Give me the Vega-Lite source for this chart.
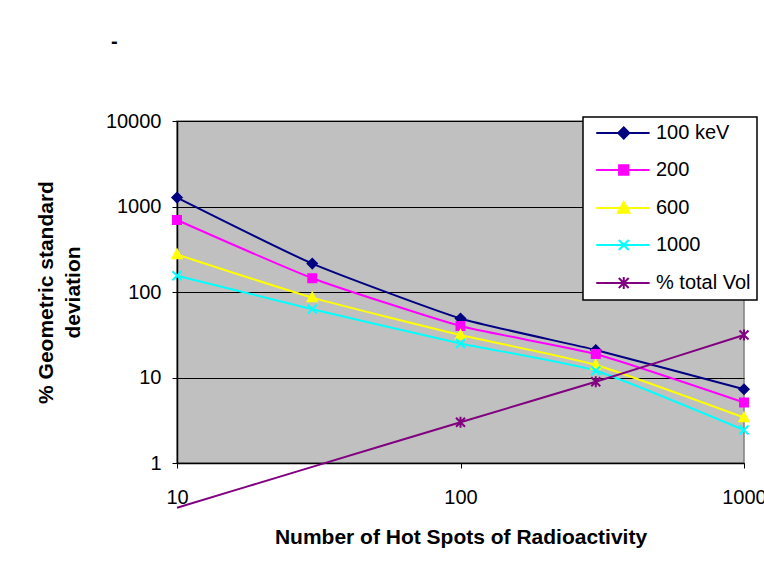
{
  "$schema": "https://vega.github.io/schema/vega-lite/v6.json",
  "width": 567,
  "height": 342,
  "autosize": {"type": "none"},
  "padding": {"left": 177, "top": 121, "right": 20, "bottom": 112},
  "background": "white",
  "title": {"text": "-", "anchor": "start", "frame": "group", "dx": -66, "offset": 59, "font": "Liberation Sans", "fontSize": 20, "fontWeight": "bold", "color": "black"},
  "config": {
    "view": {"fill": "#C0C0C0", "stroke": "#808080", "strokeWidth": 1.5},
    "font": "Liberation Sans"
  },
  "data": {"values": [
    {"x": 10, "series": "100 keV", "y": 1270},
    {"x": 30, "series": "100 keV", "y": 215},
    {"x": 100, "series": "100 keV", "y": 49},
    {"x": 300, "series": "100 keV", "y": 21},
    {"x": 1000, "series": "100 keV", "y": 7.3},
    {"x": 10, "series": "200", "y": 695},
    {"x": 30, "series": "200", "y": 145},
    {"x": 100, "series": "200", "y": 40},
    {"x": 300, "series": "200", "y": 18.8},
    {"x": 1000, "series": "200", "y": 5.1},
    {"x": 10, "series": "600", "y": 275},
    {"x": 30, "series": "600", "y": 86},
    {"x": 100, "series": "600", "y": 31.4},
    {"x": 300, "series": "600", "y": 14},
    {"x": 1000, "series": "600", "y": 3.4},
    {"x": 10, "series": "1000", "y": 155},
    {"x": 30, "series": "1000", "y": 63},
    {"x": 100, "series": "1000", "y": 25},
    {"x": 300, "series": "1000", "y": 12},
    {"x": 1000, "series": "1000", "y": 2.43},
    {"x": 10, "series": "% total Vol", "y": 0.3},
    {"x": 30, "series": "% total Vol", "y": 0.9},
    {"x": 100, "series": "% total Vol", "y": 3.0},
    {"x": 300, "series": "% total Vol", "y": 8.9},
    {"x": 1000, "series": "% total Vol", "y": 31.4}
  ]},
  "encoding": {
    "x": {"field": "x", "type": "quantitative",
      "scale": {"type": "log", "domain": [10, 1000], "nice": false},
      "axis": {"title": "Number of Hot Spots of Radioactivity", "values": [10, 100, 1000],
        "labelExpr": "format(datum.value, 'd')", "grid": false,
        "tickSize": 5, "tickColor": "black", "domainColor": "black", "domainWidth": 1.5,
        "labelFont": "Liberation Sans", "labelFontSize": 20, "labelColor": "black", "labelPadding": 19,
        "labelOverlap": false, "labelFlush": false,
        "titleFont": "Liberation Sans", "titleFontSize": 21, "titleFontWeight": "bold", "titleColor": "black", "titlePadding": 19}},
    "y": {"field": "y", "type": "quantitative",
      "scale": {"type": "log", "domain": [1, 10000], "nice": false},
      "axis": {"title": ["% Geometric standard", "deviation"], "values": [1, 10, 100, 1000, 10000],
        "labelExpr": "format(datum.value, 'd')", "grid": true, "gridColor": "black", "gridWidth": 1, "gridOpacity": 1,
        "tickSize": 5, "tickColor": "black", "domainColor": "black", "domainWidth": 1.5,
        "labelFont": "Liberation Sans", "labelFontSize": 20, "labelColor": "black", "labelPadding": 11,
        "titleFont": "Liberation Sans", "titleFontSize": 21, "titleFontWeight": "bold", "titleColor": "black",
        "titlePadding": 22, "titleLineHeight": 27}}
  },
  "layer": [
    {
      "mark": {"type": "line", "interpolate": "cardinal", "tension": 0.5, "strokeWidth": 2, "clip": false},
      "encoding": {
        "color": {"field": "series", "type": "nominal",
          "scale": {"domain": ["100 keV", "200", "600", "1000", "% total Vol"], "range": ["#000080", "#FF00FF", "#FFFF00", "#00FFFF", "#800080"]},
          "legend": {
            "title": null, "orient": "none", "legendX": 406, "legendY": -4,
            "fillColor": "white", "strokeColor": "black", "padding": 6,
            "symbolSize": 121, "symbolStrokeWidth": 2, "rowPadding": 17,
            "labelFont": "Liberation Sans", "labelFontSize": 20, "labelColor": "black", "labelOffset": 47, "labelLimit": 200,
            "encode": {
              "legend": {"update": {"strokeWidth": {"value": 1.5}}},
              "symbols": {"update": {
              "fill": {"scale": "color", "field": "value"},
              "stroke": {"scale": "color", "field": "value"},
              "strokeWidth": {"value": 2},
              "opacity": {"value": 1},
              "shape": {"signal": "datum.value === '100 keV' ? 'M-0.5,0L9.2,0M3.5,0L4.5,-1L5.5,0L4.5,1Z' : datum.value === '200' ? 'M-0.5,0L9.2,0M3.65,-0.85L5.35,-0.85L5.35,0.85L3.65,0.85Z' : datum.value === '600' ? 'M-0.5,0L9.2,0M4.5,-1.1L5.55,0.85L3.45,0.85Z' : datum.value === '1000' ? 'M-0.5,0L9.2,0M3.6,-0.9L5.4,0.9M3.6,0.9L5.4,-0.9' : 'M-0.5,0L9.2,0M3.6,-0.9L5.4,0.9M3.6,0.9L5.4,-0.9M4.5,-1.1L4.5,1.1'"}
            }}}
          }}
      }
    },
    {
      "transform": [{"filter": "datum.series === '100 keV'"}],
      "mark": {"type": "point", "shape": "M-1,0L0,-1L1,0L0,1Z", "filled": true, "fill": "#000080", "stroke": "#000080", "opacity": 1, "strokeWidth": 1.5, "size": 100}
    },
    {
      "transform": [{"filter": "datum.series === '200'"}],
      "mark": {"type": "point", "shape": "M-0.85,-0.85L0.85,-0.85L0.85,0.85L-0.85,0.85Z", "filled": true, "fill": "#FF00FF", "stroke": "#FF00FF", "opacity": 1, "strokeWidth": 1.5, "size": 100}
    },
    {
      "transform": [{"filter": "datum.series === '600'"}],
      "mark": {"type": "point", "shape": "M0,-1.05L1,0.8L-1,0.8Z", "filled": true, "fill": "#FFFF00", "stroke": "#FFFF00", "opacity": 1, "strokeWidth": 1.5, "size": 100}
    },
    {
      "transform": [{"filter": "datum.series === '1000'"}],
      "mark": {"type": "point", "shape": "M-0.9,-0.9L0.9,0.9M-0.9,0.9L0.9,-0.9", "filled": false, "stroke": "#00FFFF", "opacity": 1, "strokeWidth": 2, "size": 100}
    },
    {
      "transform": [{"filter": "datum.series === '% total Vol' && datum.y >= 1"}],
      "mark": {"type": "point", "shape": "M-0.9,-0.9L0.9,0.9M-0.9,0.9L0.9,-0.9M0,-1.1L0,1.1", "filled": false, "stroke": "#800080", "opacity": 1, "strokeWidth": 2, "size": 100}
    }
  ]
}
